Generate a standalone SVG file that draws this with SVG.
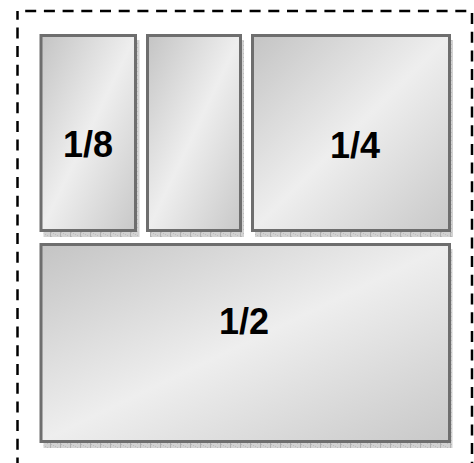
<svg xmlns="http://www.w3.org/2000/svg" width="474" height="463" viewBox="0 0 474 463">
  <defs>
    <linearGradient id="boxGrad" x1="0" y1="0" x2="1" y2="1">
      <stop offset="0" stop-color="#c4c4c4"/>
      <stop offset="0.5" stop-color="#eeeeee"/>
      <stop offset="1" stop-color="#c8c8c8"/>
    </linearGradient>
    <pattern id="shadowPat" width="10" height="4" patternUnits="userSpaceOnUse">
      <rect width="10" height="4" fill="#d2d2d2"/>
      <rect x="1" y="0" width="1" height="1" fill="#bcbcbc"/>
      <rect x="3" y="1" width="1" height="1" fill="#bcbcbc"/>
      <rect x="5" y="2" width="1" height="1" fill="#bcbcbc"/>
      <rect x="7" y="3" width="1" height="1" fill="#bcbcbc"/>
      <rect x="0" y="0" width="1" height="4" fill="#b0b0b0"/>
    </pattern>
  </defs>
  <style>
    .box { fill: url(#boxGrad); stroke: #6e6e6e; stroke-width: 3; }
    .shadow { fill: url(#shadowPat); }
    .lbl { font-family: "Liberation Sans", Arial, sans-serif; font-weight: bold; font-size: 36px; fill: #000; text-anchor: middle; }
    .frame { fill: none; stroke: #000; stroke-width: 2.5; stroke-dasharray: 11 7.7; stroke-dashoffset: 11; }
  </style>
  <rect class="frame" x="17.5" y="11" width="454.5" height="470"/>
  <g id="node-b1">
    <rect class="shadow" x="43.5" y="40" width="96" height="197"/>
    <rect class="box" x="41" y="35.5" width="94.5" height="195"/>
    <text class="lbl" x="88" y="157">1/8</text>
  </g>
  <g id="node-b2">
    <rect class="shadow" x="150" y="40" width="94" height="197"/>
    <rect class="box" x="147.5" y="35.5" width="93" height="195"/>
  </g>
  <g id="node-b3">
    <rect class="shadow" x="255" y="40" width="198" height="197"/>
    <rect class="box" x="252.5" y="35.5" width="197" height="195"/>
    <text class="lbl" x="355" y="158">1/4</text>
  </g>
  <g id="node-b4">
    <rect class="shadow" x="43.5" y="249" width="409" height="199"/>
    <rect class="box" x="41" y="244.5" width="408.5" height="197"/>
    <text class="lbl" x="244" y="334">1/2</text>
  </g>
  <g id="connectors"/>
</svg>
